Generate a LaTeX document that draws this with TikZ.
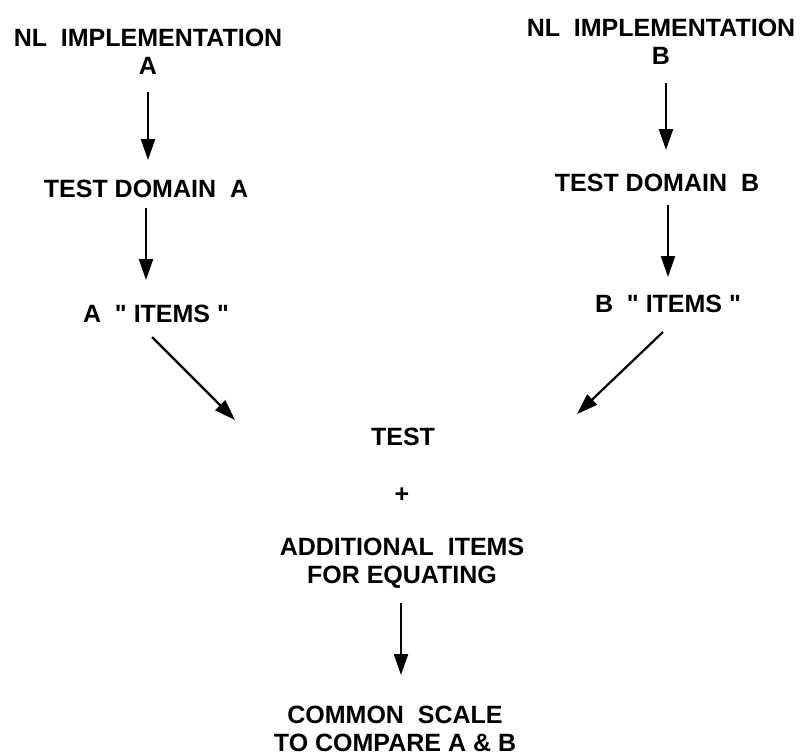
\documentclass[tikz,border=0pt]{standalone}
\usepackage{fontspec}
\setmainfont{Liberation Sans}[Ligatures=TeXOff]
\usetikzlibrary{arrows.meta}
\begin{document}
\begin{tikzpicture}[x=1pt,y=-1pt,
  lab/.style={font=\fontsize{25}{28}\selectfont\bfseries, inner sep=0pt, align=center},
  arr/.style={line width=2.2pt, -{Triangle[length=21pt,width=14pt]}}]
\useasboundingbox (0,0) rectangle (807,756);
% nodes
\node[lab] (nla) at (148,52) {NL~~IMPLEMENTATION\\A};
\node[lab] (nlb) at (661,42) {NL~~IMPLEMENTATION\\B};
\node[lab] (tda) at (146,189) {TEST DOMAIN~~A};
\node[lab] (tdb) at (657,183) {TEST DOMAIN~~B};
\node[lab] (ai) at (156,314) {A~~" ITEMS "};
\node[lab] (bi) at (668,304) {B~~" ITEMS "};
\node[lab] (test) at (403,437) {TEST};
\node[lab] (plus) at (402,495) {+};
\node[lab] (add) at (402,563) {ADDITIONAL~~ITEMS\\FOR EQUATING};
\node[lab] (cs) at (395,729) {COMMON~~SCALE\\TO COMPARE A \& B};
\coordinate (ea) at (235,420);
\coordinate (eb) at (577,414);
% connectors
\draw[arr] ([yshift=-40pt]nla.center) -- ([xshift=2pt,yshift=29pt]tda.center);
\draw[arr] ([yshift=-19pt]tda.center) -- ([xshift=-10pt,yshift=34pt]ai.center);
\draw[arr] ([xshift=-4pt,yshift=-23pt]ai.center) -- (ea);
\draw[arr] ([xshift=5pt,yshift=-41pt]nlb.center) -- ([xshift=9pt,yshift=33pt]tdb.center);
\draw[arr] ([xshift=11pt,yshift=-22pt]tdb.center) -- ([yshift=27pt]bi.center);
\draw[arr] ([xshift=-5pt,yshift=-28pt]bi.center) -- (eb);
\draw[arr] ([xshift=-1pt,yshift=-40pt]add.center) -- ([xshift=6pt,yshift=54pt]cs.center);
\end{tikzpicture}
\end{document}
